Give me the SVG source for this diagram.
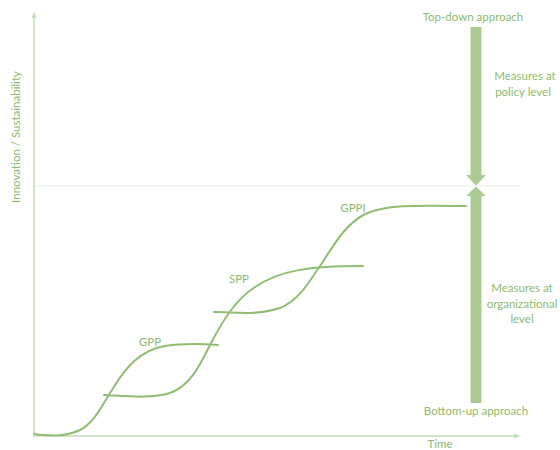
<svg xmlns="http://www.w3.org/2000/svg" width="560" height="450" viewBox="0 0 560 450">
<style>
.t{font-family:Lato,"Open Sans","Liberation Sans",sans-serif;font-size:11.5px;fill:#8dbb6e;text-anchor:middle}
.curve{fill:none;stroke:#90bd72;stroke-width:2;stroke-linecap:round}
.axis{fill:none;stroke:#c6ddb5;stroke-width:1.6}
.bar{fill:#abcb94}
</style>
<defs>
<marker id="ah" markerWidth="6" markerHeight="6" refX="5" refY="3" orient="auto" markerUnits="userSpaceOnUse">
<path d="M0,0.5 L6,3 L0,5.5 Z" fill="#c6ddb5"/>
</marker>
</defs>
<rect width="560" height="450" fill="#fff"/>
<g id="guide"><line x1="34" y1="186" x2="520" y2="186" stroke="#e9efe2" stroke-width="1.2"/></g>
<g id="connectors">
<line class="axis" x1="34" y1="437" x2="34" y2="13" marker-end="url(#ah)"/>
<line class="axis" x1="34" y1="436" x2="519" y2="436" marker-end="url(#ah)"/>
</g>
<g id="ylabel"><text class="t" transform="translate(20,137) rotate(-90)">Innovation / Sustainability</text></g>
<g id="xlabel"><text class="t" x="440" y="448">Time</text></g>
<g id="gpp">
<path class="curve" d="M34,434 C50,436 65,437 80,430 C95,422 102,405 112,390 C125,368 140,350 165,346 C185,343 205,344 218,345"/>
<text class="t" x="150" y="346">GPP</text>
</g>
<g id="spp">
<path class="curve" d="M104,395 C125,396 150,399 170,393 C190,386 200,365 210,345 C222,322 235,300 255,287 C280,270 310,266 363,266"/>
<text class="t" x="239" y="283">SPP</text>
</g>
<g id="gppi">
<path class="curve" d="M214,312 C235,312 255,316 280,308 C300,300 310,280 322,263 C335,243 345,225 365,214 C385,205 410,205 466,206"/>
<text class="t" x="353" y="212">GPPI</text>
</g>
<g id="topdown">
<path class="bar" d="M470.5,27 H481.5 V175 H486 L476,185.5 L466,175 H470.5 Z"/>
<text class="t" x="473" y="21">Top-down approach</text>
</g>
<g id="policy">
<text class="t" x="525" y="80">Measures at</text>
<text class="t" x="523" y="96">policy level</text>
</g>
<g id="bottomup">
<path class="bar" d="M470.5,403 H481.5 V196 H486 L476,186.5 L466,196 H470.5 Z"/>
<text class="t" x="476" y="415">Bottom-up approach</text>
</g>
<g id="org">
<text class="t" x="522" y="292">Measures at</text>
<text class="t" x="522" y="308">organizational</text>
<text class="t" x="522" y="323">level</text>
</g>
</svg>
